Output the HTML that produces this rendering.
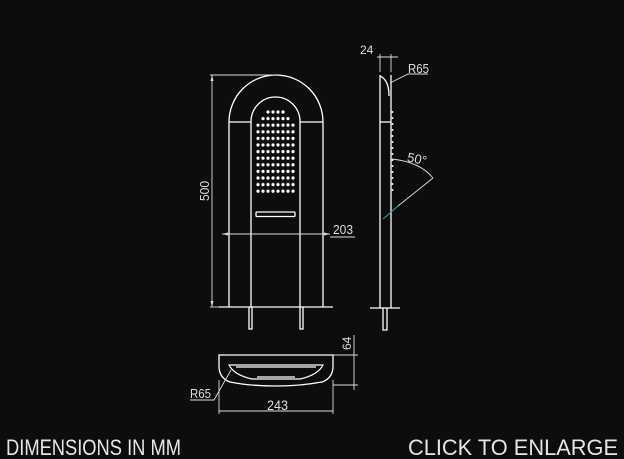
<!DOCTYPE html>
<html><head><meta charset="utf-8"><style>
html,body{margin:0;padding:0;background:#0d0d0d;}
svg{display:block}
</style></head><body>
<svg width="624" height="459" viewBox="0 0 624 459" xmlns="http://www.w3.org/2000/svg">
<defs>
<pattern id="dots" x="255.5" y="108.7" width="5" height="6.6" patternUnits="userSpaceOnUse">
<circle cx="2.5" cy="3.3" r="1.6" fill="#fff"/>
</pattern>
</defs>
<rect width="624" height="459" fill="#0d0d0d"/>
<g stroke="#fff" stroke-width="1.3" fill="none">
<path d="M229 307 V122 A47 47 0 0 1 323 122 V307"/>
<path d="M251 307 V121.5 A24.5 24.5 0 0 1 300 121.5 V307"/>
<line x1="229" y1="122" x2="251" y2="122"/>
<line x1="300" y1="122" x2="323" y2="122"/>
<line x1="219" y1="307" x2="333" y2="307"/>
<path d="M249 307 V329 H252 V307"/>
<path d="M300 307 V329 H303 V307"/>
<rect x="256" y="212" width="39" height="4.5" rx="1"/>
</g>
<rect x="265.5" y="108.7" width="20" height="6.6" fill="url(#dots)"/>
<rect x="260.5" y="115.3" width="30" height="6.6" fill="url(#dots)"/>
<rect x="255.5" y="121.9" width="40" height="72.6" fill="url(#dots)"/>
<g stroke="#ddd" stroke-width="0.9" fill="none">
<line x1="212" y1="75" x2="212" y2="307"/>
<line x1="210" y1="75" x2="276" y2="75"/>
<line x1="210" y1="307" x2="219" y2="307"/>
<line x1="222" y1="234" x2="330" y2="234"/>
<line x1="330" y1="237" x2="355" y2="237"/>
</g>
<g fill="#ddd">
<path d="M212 75 l-1.5 6 h3z"/><path d="M212 307 l-1.5 -6 h3z"/>
<path d="M222 234 l6 -1.5 v3z"/><path d="M330 234 l-6 -1.5 v3z"/>
</g>
<g font-family="Liberation Sans, sans-serif" font-size="13" fill="#ddd">
<text x="333" y="234" textLength="20" lengthAdjust="spacingAndGlyphs">203</text>
<text transform="translate(209,201) rotate(-90)" textLength="20" lengthAdjust="spacingAndGlyphs">500</text>
<text x="360" y="54" font-size="12">24</text>
<text x="408" y="73" textLength="21" lengthAdjust="spacingAndGlyphs">R65</text>
<text x="407" y="163" transform="rotate(12 415 160)">50°</text>
<text transform="translate(351,350) rotate(-90)" font-size="12">64</text>
<text x="190" y="398" textLength="21" lengthAdjust="spacingAndGlyphs">R65</text>
<text x="267" y="410" font-size="14" textLength="21" lengthAdjust="spacingAndGlyphs">243</text>
</g>
<g stroke="#fff" stroke-width="1.3" fill="none">
<line x1="380" y1="75" x2="380" y2="308"/>
<line x1="391" y1="75" x2="391" y2="308"/>
<path d="M380 76 Q389 80 389 96"/>
<line x1="380" y1="122" x2="391" y2="122"/>
<line x1="370" y1="308" x2="400" y2="308"/>
<path d="M383 308 V330 H387 V308"/>
</g>
<g fill="#fff">
<circle cx="392.5" cy="112" r="1"/><circle cx="392.5" cy="118" r="1"/><circle cx="392.5" cy="124" r="1"/><circle cx="392.5" cy="130" r="1"/><circle cx="392.5" cy="136" r="1"/><circle cx="392.5" cy="142" r="1"/><circle cx="392.5" cy="148" r="1"/><circle cx="392.5" cy="154" r="1"/><circle cx="392.5" cy="160" r="1"/><circle cx="392.5" cy="166" r="1"/><circle cx="392.5" cy="172" r="1"/><circle cx="392.5" cy="178" r="1"/><circle cx="392.5" cy="184" r="1"/><circle cx="392.5" cy="190" r="1"/>
</g>
<g stroke="#ddd" stroke-width="0.9" fill="none">
<line x1="377" y1="57" x2="398" y2="57"/>
<line x1="380" y1="54" x2="380" y2="72"/>
<line x1="391" y1="54" x2="391" y2="72"/>
<polyline points="390,83 408,74 428,74"/>
<path d="M392 159 Q420 162 433 178"/>
<line x1="433" y1="178" x2="398" y2="206"/>
</g>
<line x1="398" y1="206" x2="383" y2="219" stroke="#3a9" stroke-width="1"/>
<g stroke="#fff" stroke-width="1.3" fill="none">
<path d="M219 355 H333 V366 Q333 378 322 382 Q300 386 276 386 Q250 386 230 382 Q219 378 219 366 Z"/>
<path d="M229 365 H323 Q318 375 300 379 H252 Q234 375 229 365 Z"/>
<line x1="236" y1="367" x2="316" y2="367"/>
<line x1="257" y1="377" x2="295" y2="377"/>
</g>
<g stroke="#ddd" stroke-width="0.9" fill="none">
<line x1="333" y1="355" x2="358" y2="355"/>
<line x1="333" y1="385" x2="358" y2="385"/>
<line x1="354" y1="335" x2="354" y2="390"/>
<line x1="219" y1="380" x2="219" y2="414"/>
<line x1="333" y1="380" x2="333" y2="414"/>
<line x1="219" y1="411" x2="333" y2="411"/>
<polyline points="190,400 214,400 231,370"/>
</g>
<g font-family="Liberation Sans, sans-serif" font-size="22" fill="#e6e6e6">
<text x="6" y="455" textLength="175" lengthAdjust="spacingAndGlyphs">DIMENSIONS IN MM</text>
<text x="408" y="455" textLength="210" lengthAdjust="spacingAndGlyphs">CLICK TO ENLARGE</text>
</g>
</svg>
</body></html>
